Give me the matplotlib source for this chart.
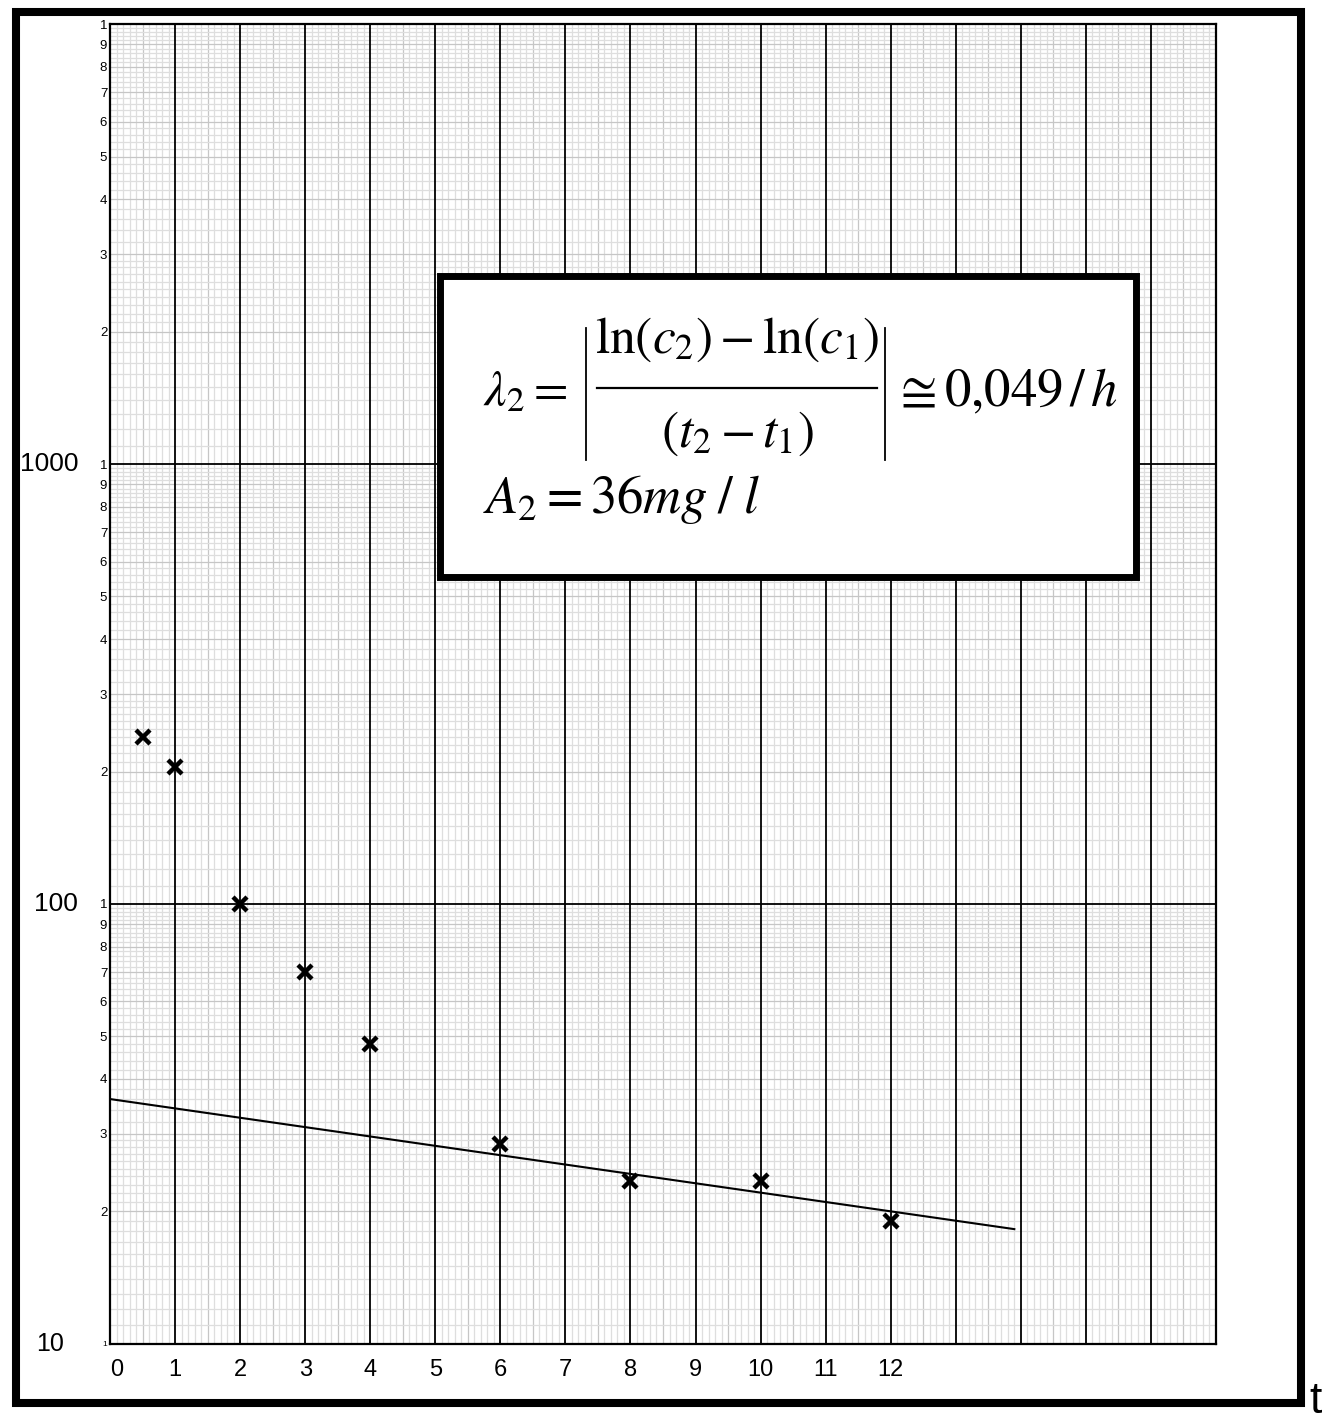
import matplotlib
matplotlib.use('Agg')
import matplotlib.pyplot as plt
import matplotlib.transforms as mtransforms
from matplotlib.patches import Rectangle
from matplotlib.lines import Line2D
from matplotlib.ticker import NullLocator
import numpy as np

plt.rcParams['font.family'] = ['Liberation Sans', 'DejaVu Sans']
plt.rcParams['mathtext.fontset'] = 'stix'

# ---------------- data ----------------
t_data = [0.5, 1, 2, 3, 4, 6, 8, 10, 12]
c_data = [240, 205, 100, 70, 48, 28.5, 23.5, 23.5, 19]
A2 = 36.0
lam2 = 0.049
fit_t = [0.0, 13.9]
x_tick_vals = list(range(13))
x_tick_labels = [str(v) for v in x_tick_vals]
decade_labels = ['10', '100', '1000']
decade_vals = [10, 100, 1000]

# ---------------- figure ----------------
W, H = 1327, 1425
fig = plt.figure(figsize=(W / 100, H / 100), dpi=100)


def fx(px):
    return px / W


def fy(py):
    return 1 - py / H


ax_l, ax_r, ax_t, ax_b = 110, 1216, 24.3, 1343.7
ax = fig.add_axes([fx(ax_l), fy(ax_b), (ax_r - ax_l) / W, (ax_b - ax_t) / H])
ax.set_yscale('log')
ax.set_xlim(0, 17)
ax.set_ylim(10, 10000)

light = '#dedede'
mid = '#c6c6c6'

# vertical graph-paper lines
xs = np.round(np.arange(0, 17.0001, 0.1), 1)
minor_x = [v for v in xs if abs(v - round(v)) > 1e-6]
half_x = [v for v in minor_x if abs(v * 2 - round(v * 2)) < 1e-6]
fine_x = [v for v in minor_x if v not in half_x]
ax.vlines(fine_x, 10, 10000, colors=light, lw=0.9, zorder=1)
ax.vlines(half_x, 10, 10000, colors=mid, lw=0.9, zorder=1)
ax.vlines(range(0, 18), 10, 10000, colors='black', lw=1.3, zorder=3)

# horizontal graph-paper lines
fine_y, int_y = [], []
for d in [10, 100, 1000]:
    mult = np.round(np.concatenate([np.arange(1, 3, 0.1), np.arange(3, 10, 0.2)]), 2)
    for m in mult:
        if abs(m - round(m)) < 1e-6:
            if round(m) != 1:
                int_y.append(m * d)
        else:
            fine_y.append(m * d)
ax.hlines(fine_y, 0, 17, colors=light, lw=0.9, zorder=1)
ax.hlines(int_y, 0, 17, colors=mid, lw=0.9, zorder=2)
ax.hlines([100, 1000], 0, 17, colors='black', lw=1.3, zorder=3)

for s in ax.spines.values():
    s.set_linewidth(1.6)
    s.set_zorder(4)

# y tick labels (graph paper numbering)
yt, ylab = [], []
for n in (1, 2, 3):
    for k in range(1, 10):
        yt.append(k * 10 ** n)
        ylab.append(str(k))
yt.append(10000)
ylab.append('1')
ax.set_yticks(yt)
ax.set_yticklabels(ylab, fontsize=9.5)
ax.yaxis.set_minor_locator(NullLocator())
ax.tick_params(axis='y', which='both', length=0, pad=2)
ax.get_yticklabels()[0].set_fontsize(6)

# x tick labels
ax.set_xticks(x_tick_vals)
ax.set_xticklabels(x_tick_labels, fontsize=17)
ax.xaxis.set_minor_locator(NullLocator())
ax.tick_params(axis='x', which='both', length=0, pad=11)
ax.get_xticklabels()[0].set_horizontalalignment('left')

# decade labels
tr = mtransforms.blended_transform_factory(fig.transFigure, ax.transData)
for lab, v in zip(decade_labels, decade_vals):
    if lab == '10':
        ax.text(fx(36), v, lab, transform=tr, ha='left', va='center', fontsize=18)
    else:
        ax.text(fx(78), v, lab, transform=tr, ha='right', va='center', fontsize=19)

# data markers and fit line
ax.plot(t_data, c_data, linestyle='none', marker='x', color='black',
        ms=10.5, mew=3.2, zorder=6)
ft = np.array(fit_t)
ax.plot(ft, A2 * np.exp(-lam2 * ft), color='black', lw=1.5, zorder=5)

# outer frame
fig.add_artist(Rectangle((fx(16), fy(1403)), (1301 - 16) / W, (1403 - 11.7) / H,
                         transform=fig.transFigure, fill=False,
                         edgecolor='black', lw=5.8, zorder=20))
fig.text(fx(1309), fy(1413), 't', fontsize=32, ha='left', va='baseline')

# formula box
fig.add_artist(Rectangle((fx(439.5), fy(576.5)), (1135.5 - 439.5) / W, (576.5 - 275.5) / H,
                         transform=fig.transFigure, facecolor='white',
                         edgecolor='black', lw=5, zorder=20))


def fline(x0, y0, x1, y1, lw):
    fig.add_artist(Line2D([fx(x0), fx(x1)], [fy(y0), fy(y1)], transform=fig.transFigure,
                          color='black', lw=lw, zorder=22))


fig.text(fx(483), fy(392), r'$\lambda_2 =$', fontsize=36, ha='left', va='center', zorder=21)
fline(586, 328, 586, 460, 1.3)
fig.text(fx(737), fy(340), r'$\ln(c_2)-\ln(c_1)$', fontsize=37, ha='center', va='center', zorder=21)
fline(597, 388, 877, 388, 1.6)
fig.text(fx(737), fy(434), r'$(t_2-t_1)$', fontsize=37, ha='center', va='center', zorder=21)
fline(885, 328, 885, 460, 1.3)
fig.text(fx(893), fy(392), r'$\cong 0{,}049\,/\,h$', fontsize=38, ha='left', va='center', zorder=21)
fig.text(fx(483), fy(499), r'$A_2 = 36mg\;/\;l$', fontsize=38, ha='left', va='center', zorder=21)

fig.savefig('out.png', dpi=100)
